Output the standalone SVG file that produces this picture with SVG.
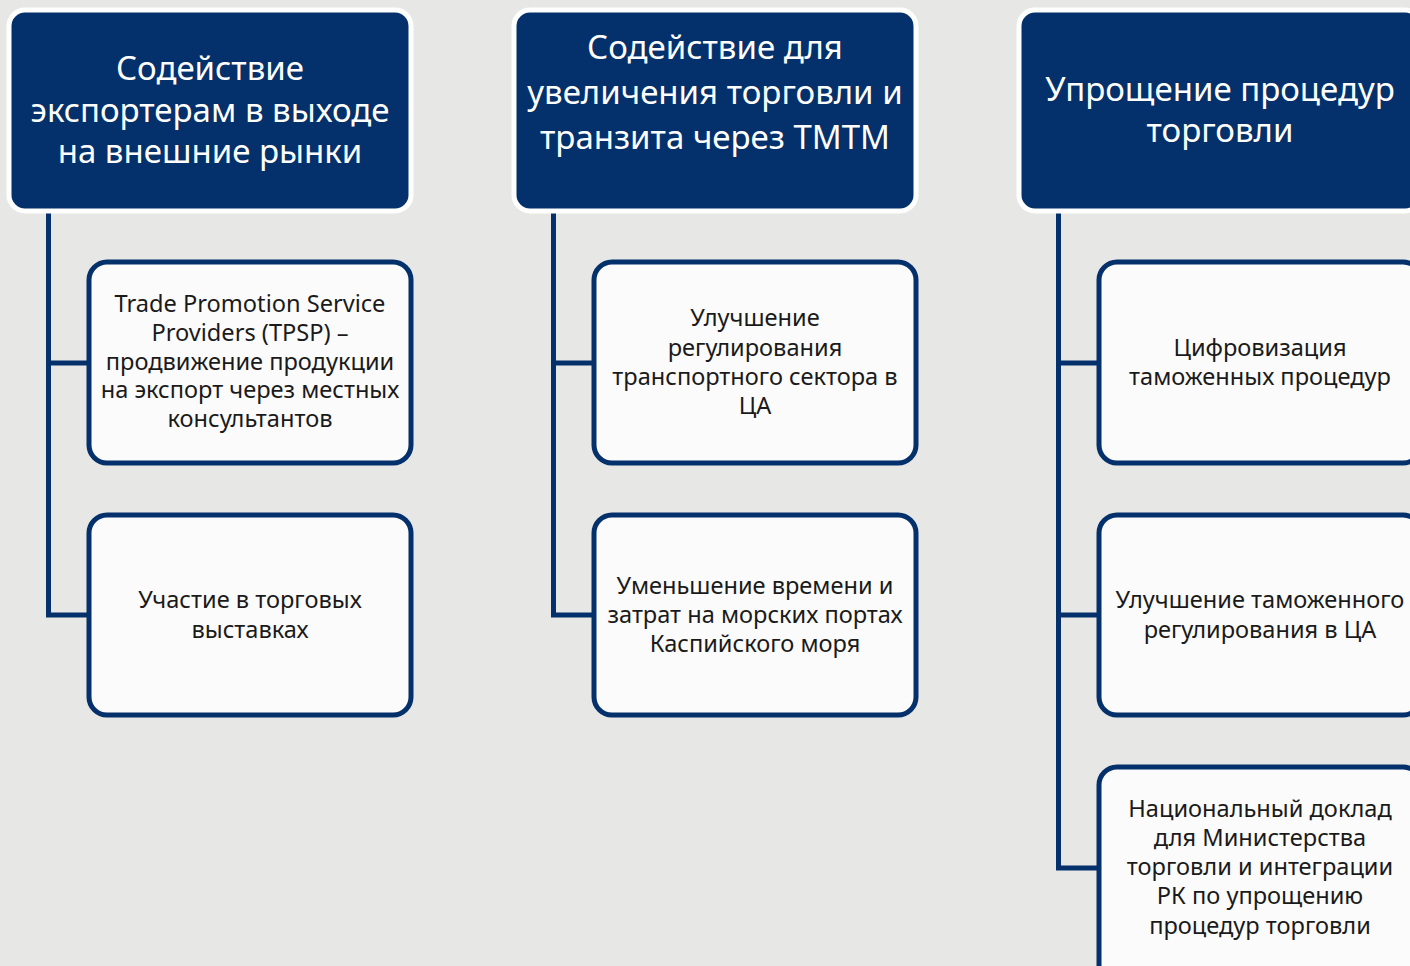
<svg xmlns="http://www.w3.org/2000/svg" width="1410" height="966" viewBox="0 0 1410 966">
<style>
.bg{fill:#E7E7E5}
.hdr{fill:#04306B;stroke:#FFFFFF;stroke-width:5}
.box{fill:#FBFBFB;stroke:#04306B;stroke-width:5}
.ln{fill:none;stroke:#04306B;stroke-width:5;stroke-linejoin:miter}
.ht{font-family:"Noto Sans","Open Sans",sans-serif;font-size:33px;fill:#FFFFFF;text-anchor:middle}
.bt{font-family:"Noto Sans","Open Sans",sans-serif;font-size:23.6px;fill:#1A1A1A;text-anchor:middle}
</style>
<rect class="bg" x="0" y="0" width="1410" height="966"/>
<g id="connectors">
<path class="ln" d="M48.5 210 V615 H90 M48.5 363 H90"/>
<path class="ln" d="M553.5 210 V615 H595 M553.5 363 H595"/>
<path class="ln" d="M1058.5 210 V868 H1100 M1058.5 363 H1100 M1058.5 615 H1100"/>
</g>
<g id="h1"><rect class="hdr" x="9" y="10" width="402" height="201" rx="16"/>
<text class="ht"><tspan x="210" y="80">Содействие</tspan><tspan x="210" y="122">экспортерам в выходе</tspan><tspan x="210" y="163">на внешние рынки</tspan></text></g>
<g id="h2"><rect class="hdr" x="514" y="10" width="402" height="201" rx="16"/>
<text class="ht"><tspan x="715" y="59">Содействие для</tspan><tspan x="715" y="104">увеличения торговли и</tspan><tspan x="715" y="149">транзита через ТМТМ</tspan></text></g>
<g id="h3"><rect class="hdr" x="1019" y="10" width="402" height="201" rx="16"/>
<text class="ht"><tspan x="1220" y="101">Упрощение процедур</tspan><tspan x="1220" y="142">торговли</tspan></text></g>
<g id="c1a"><rect class="box" x="89" y="262" width="322" height="201" rx="18"/>
<text class="bt"><tspan x="250" y="312">Trade Promotion Service</tspan><tspan x="250" y="341">Providers (TPSP) –</tspan><tspan x="250" y="370">продвижение продукции</tspan><tspan x="250" y="398">на экспорт через местных</tspan><tspan x="250" y="427">консультантов</tspan></text></g>
<g id="c1b"><rect class="box" x="89" y="515" width="322" height="200" rx="18"/>
<text class="bt"><tspan x="250" y="608">Участие в торговых</tspan><tspan x="250" y="638">выставках</tspan></text></g>
<g id="c2a"><rect class="box" x="594" y="262" width="322" height="201" rx="18"/>
<text class="bt"><tspan x="755" y="326">Улучшение</tspan><tspan x="755" y="356">регулирования</tspan><tspan x="755" y="385">транспортного сектора в</tspan><tspan x="755" y="414">ЦА</tspan></text></g>
<g id="c2b"><rect class="box" x="594" y="515" width="322" height="200" rx="18"/>
<text class="bt"><tspan x="755" y="594">Уменьшение времени и</tspan><tspan x="755" y="623">затрат на морских портах</tspan><tspan x="755" y="652">Каспийского моря</tspan></text></g>
<g id="c3a"><rect class="box" x="1099" y="262" width="322" height="201" rx="18"/>
<text class="bt"><tspan x="1260" y="356">Цифровизация</tspan><tspan x="1260" y="385">таможенных процедур</tspan></text></g>
<g id="c3b"><rect class="box" x="1099" y="515" width="322" height="200" rx="18"/>
<text class="bt"><tspan x="1260" y="608">Улучшение таможенного</tspan><tspan x="1260" y="638">регулирования в ЦА</tspan></text></g>
<g id="c3c"><rect class="box" x="1099" y="767" width="322" height="220" rx="18"/>
<text class="bt"><tspan x="1260" y="817">Национальный доклад</tspan><tspan x="1260" y="846">для Министерства</tspan><tspan x="1260" y="875">торговли и интеграции</tspan><tspan x="1260" y="904">РК по упрощению</tspan><tspan x="1260" y="934">процедур торговли</tspan></text></g>
</svg>
